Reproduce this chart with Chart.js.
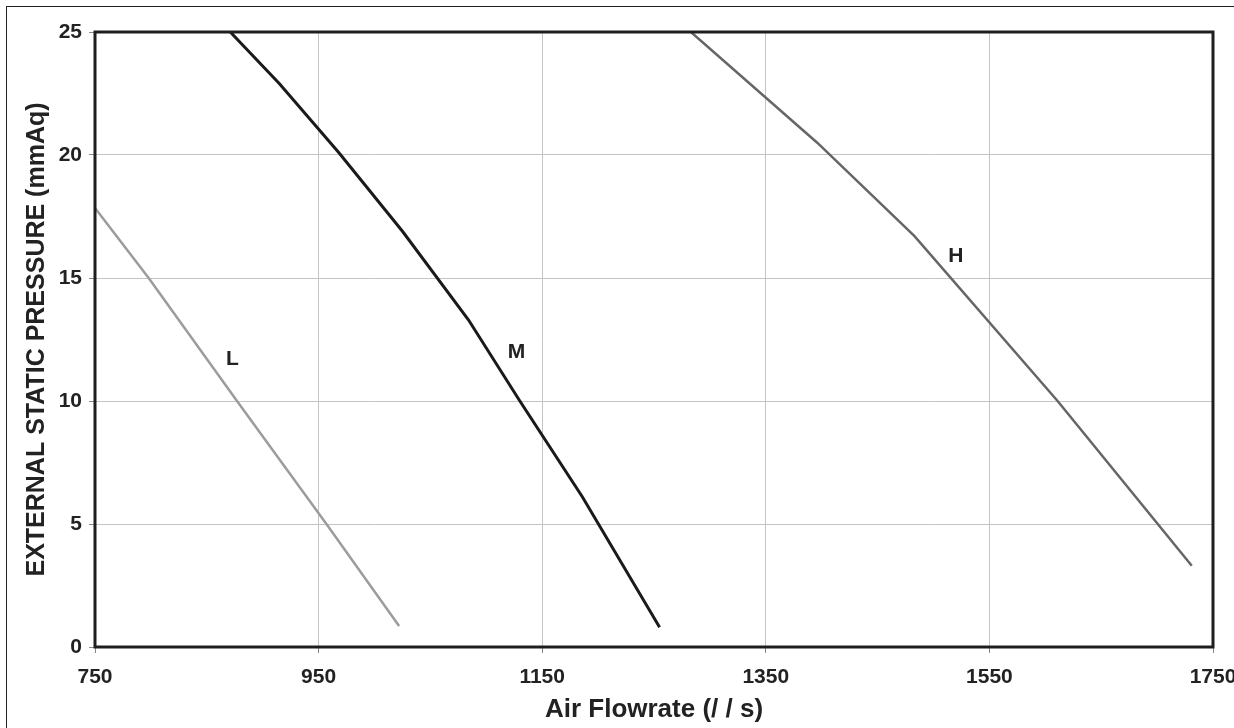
<!DOCTYPE html>
<html>
<head>
<meta charset="utf-8">
<script src="https://cdn.jsdelivr.net/npm/chart.js@4"></script>
<style>
  body { margin: 0; background: #fff; }
</style>
</head>
<body>
<canvas id="fanChart" width="1234" height="728"></canvas>
<script>
// fan curves: air flowrate vs external static pressure
const lowFlow = [750, 798, 877, 957, 1022];
const lowPressure = [17.85, 15, 10, 5, 0.85];

const midFlow = [871, 915, 968, 1025, 1084, 1130, 1186, 1255];
const midPressure = [25, 22.9, 20.1, 16.9, 13.3, 10, 6.1, 0.8];

const highFlow = [1283, 1396, 1483, 1611, 1731];
const highPressure = [25, 20.5, 16.7, 10, 3.3];

const curveNames = ['L', 'M', 'H'];
const nameFlow = [873, 1127, 1520];
const namePressure = [11.7, 12.0, 15.9];

const xTicks = [750, 950, 1150, 1350, 1550, 1750];
const yTicks = [0, 5, 10, 15, 20, 25];

const fontFamily = '"Liberation Sans", Arial, sans-serif';

function toPoints(xs, ys) {
    return xs.map((x, i) => ({ x: x, y: ys[i] }));
}

// frame around the plot, outer border, and the L/M/H curve names
const extras = {
    id: 'extras',
    afterDraw(chart) {
        const ctx = chart.ctx;
        const a = chart.chartArea;
        ctx.save();
        ctx.strokeStyle = '#222';
        ctx.lineWidth = 1;
        ctx.strokeRect(6.5, 6.5, 1260, 760);

        ctx.lineWidth = 3;
        ctx.strokeStyle = '#1e1e1e';
        ctx.strokeRect(a.left, a.top, a.right - a.left, a.bottom - a.top);

        ctx.fillStyle = '#222';
        ctx.font = 'bold 21px ' + fontFamily;
        ctx.textAlign = 'center';
        ctx.textBaseline = 'middle';
        curveNames.forEach((name, i) => {
            const px = chart.scales.x.getPixelForValue(nameFlow[i]);
            const py = chart.scales.y.getPixelForValue(namePressure[i]);
            ctx.fillText(name, px, py);
        });
        ctx.restore();
    }
};

new Chart('fanChart', {
    type: 'scatter',
    data: {
        datasets: [
            { label: 'L', data: toPoints(lowFlow, lowPressure), borderColor: '#9c9c9c', borderWidth: 2.5 },
            { label: 'M', data: toPoints(midFlow, midPressure), borderColor: '#1a1a1a', borderWidth: 3 },
            { label: 'H', data: toPoints(highFlow, highPressure), borderColor: '#666666', borderWidth: 2.5 }
        ]
    },
    options: {
        responsive: false,
        animation: false,
        showLine: true,
        elements: {
            point: { radius: 0 },
            line: { tension: 0 }
        },
        layout: { padding: { top: 32, right: 21, bottom: 0, left: 0 } },
        plugins: {
            legend: { display: false },
            tooltip: { enabled: false }
        },
        scales: {
            x: {
                type: 'linear',
                min: 750,
                max: 1750,
                afterBuildTicks: scale => { scale.ticks = xTicks.map(v => ({ value: v })); },
                afterFit: scale => {
                    scale.height = 81;
                    scale.paddingLeft = 0;
                    scale.paddingRight = 0;
                },
                grid: { color: '#c4c4c4', lineWidth: 1, tickLength: 6, tickColor: '#888' },
                border: { display: false },
                ticks: {
                    color: '#222',
                    padding: 12,
                    maxRotation: 0,
                    callback: v => String(v),
                    font: { family: fontFamily, size: 21, weight: 'bold' }
                },
                title: {
                    display: true,
                    text: 'Air Flowrate (/ / s)',
                    color: '#222',
                    padding: { top: 0, bottom: 3 },
                    font: { family: fontFamily, size: 26, weight: 'bold' }
                }
            },
            y: {
                type: 'linear',
                min: 0,
                max: 25,
                afterBuildTicks: scale => { scale.ticks = yTicks.map(v => ({ value: v })); },
                afterFit: scale => {
                    scale.width = 95;
                    scale.paddingTop = 0;
                    scale.paddingBottom = 0;
                },
                grid: { color: '#c4c4c4', lineWidth: 1, tickLength: 6, tickColor: '#888' },
                border: { display: false },
                ticks: {
                    color: '#222',
                    padding: 7,
                    callback: v => String(v),
                    font: { family: fontFamily, size: 21, weight: 'bold' }
                },
                title: {
                    display: true,
                    text: 'EXTERNAL STATIC PRESSURE (mmAq)',
                    color: '#222',
                    padding: { top: 22, bottom: 0 },
                    font: { family: fontFamily, size: 25, weight: 'bold' }
                }
            }
        }
    },
    plugins: [extras]
});
</script>
</body>
</html>
